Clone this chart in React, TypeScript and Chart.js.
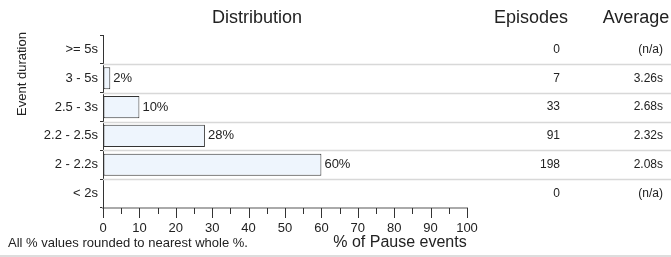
import React, { useEffect, useRef } from "react";
import { Chart, registerables } from "chart.js";

Chart.register(...registerables);

const categories = [">= 5s", "3 - 5s", "2.5 - 3s", "2.2 - 2.5s", "2 - 2.2s", "< 2s"];
const percentages = [0, 2, 10, 28, 60, 0];
const episodes = [0, 7, 33, 91, 198, 0];
const averages = ["(n/a)", "3.26s", "2.68s", "2.32s", "2.08s", "(n/a)"];
const xMin = 0;
const xMax = 100;
const xMajorStep = 10;
const xMinorStep = 5;

const FONT = '"Liberation Sans", Arial, sans-serif';
const TEXT = "#222";

const overlay = {
  id: "overlay",
  beforeDatasetsDraw(chart: any) {
    const { ctx, chartArea, scales } = chart;
    const y = scales.y;
    ctx.save();
    ctx.strokeStyle = "#d8d8d8";
    ctx.lineWidth = 1.5;
    for (let i = 0; i < categories.length - 1; i++) {
      const py = Math.round((y.getPixelForValue(i) + y.getPixelForValue(i + 1)) / 2) + 0.5;
      ctx.beginPath();
      ctx.moveTo(chartArea.left, py);
      ctx.lineTo(chart.width, py);
      ctx.stroke();
    }
    ctx.restore();
  },
  afterDraw(chart: any) {
    const { ctx, chartArea, scales } = chart;
    const x = scales.x;
    const y = scales.y;
    ctx.save();
    ctx.fillStyle = TEXT;
    // headers
    ctx.font = `18px ${FONT}`;
    ctx.textBaseline = "alphabetic";
    ctx.textAlign = "center";
    ctx.fillText("Distribution", 257, 23);
    ctx.fillText("Episodes", 531, 23);
    ctx.fillText("Average", 636, 23);
    // y title
    ctx.save();
    ctx.font = `13px ${FONT}`;
    ctx.translate(26, 74);
    ctx.rotate(-Math.PI / 2);
    ctx.textAlign = "center";
    ctx.textBaseline = "alphabetic";
    ctx.fillText("Event duration", 0, 0);
    ctx.restore();
    // columns + labels
    ctx.font = `12px ${FONT}`;
    ctx.textBaseline = "middle";
    for (let i = 0; i < categories.length; i++) {
      const py = y.getPixelForValue(i);
      ctx.textAlign = "right";
      ctx.fillText(String(episodes[i]), 560, py);
      ctx.fillText(averages[i], 663, py);
      if (percentages[i] > 0) {
        ctx.textAlign = "left";
        ctx.font = `13px ${FONT}`;
        ctx.fillText(percentages[i] + "%", x.getPixelForValue(percentages[i]) + 3, py);
        ctx.font = `12px ${FONT}`;
      }
    }
    // x ticks
    ctx.strokeStyle = "#333";
    ctx.lineWidth = 1;
    for (let v = xMin; v <= xMax; v += xMinorStep) {
      const px = Math.round(x.getPixelForValue(v)) + 0.5;
      const len = v % xMajorStep === 0 ? 10 : 6;
      ctx.beginPath();
      ctx.moveTo(px, chartArea.bottom);
      ctx.lineTo(px, chartArea.bottom + len);
      ctx.stroke();
    }
    // footnote and axis title
    ctx.textBaseline = "middle";
    ctx.textAlign = "left";
    ctx.font = `13px ${FONT}`;
    ctx.fillText("All % values rounded to nearest whole %.", 8, 243);
    ctx.textAlign = "center";
    ctx.font = `16px ${FONT}`;
    ctx.fillText("% of Pause events", 400, 243);
    // bottom line
    ctx.strokeStyle = "#ddd";
    ctx.lineWidth = 2;
    ctx.beginPath();
    ctx.moveTo(0, 256);
    ctx.lineTo(chart.width, 256);
    ctx.stroke();
    ctx.restore();
  },
};

export default function App() {
  const ref = useRef<HTMLCanvasElement | null>(null);
  useEffect(() => {
    if (!ref.current) return;
    const chart = new Chart(ref.current, {
      type: "bar",
      data: {
        labels: categories,
        datasets: [
          {
            data: percentages,
            backgroundColor: "#eef5fd",
            borderColor: "#333",
            borderWidth: 1,
            borderSkipped: false,
            categoryPercentage: 1,
            barPercentage: 0.77,
          },
        ],
      },
      options: {
        indexAxis: "y",
        responsive: false,
        animation: false,
        layout: { padding: { top: 35, right: 204, left: 0, bottom: 0 } },
        plugins: { legend: { display: false }, tooltip: { enabled: false } },
        scales: {
          x: {
            min: xMin,
            max: xMax,
            ticks: {
              stepSize: xMajorStep,
              color: TEXT,
              font: { family: FONT, size: 13 },
              padding: 13,
              maxRotation: 0,
            },
            grid: { drawOnChartArea: false, drawTicks: false },
            border: { color: "#aaa", width: 2 },
            afterFit: (s: any) => {
              s.height = 49;
            },
          },
          y: {
            ticks: { color: TEXT, font: { family: FONT, size: 13 }, padding: 2 },
            grid: { drawOnChartArea: false, drawTicks: true, tickLength: 3, color: "#333", offset: true },
            border: { color: "#333", width: 1 },
            afterFit: (s: any) => {
              s.width = 103;
            },
          },
        },
      },
      plugins: [overlay],
    });
    return () => chart.destroy();
  }, []);
  return (
    <div style={{ position: "absolute", left: 0, top: 0, width: 671, height: 257, background: "#fff" }}>
      <canvas ref={ref} width={671} height={257} />
    </div>
  );
}
